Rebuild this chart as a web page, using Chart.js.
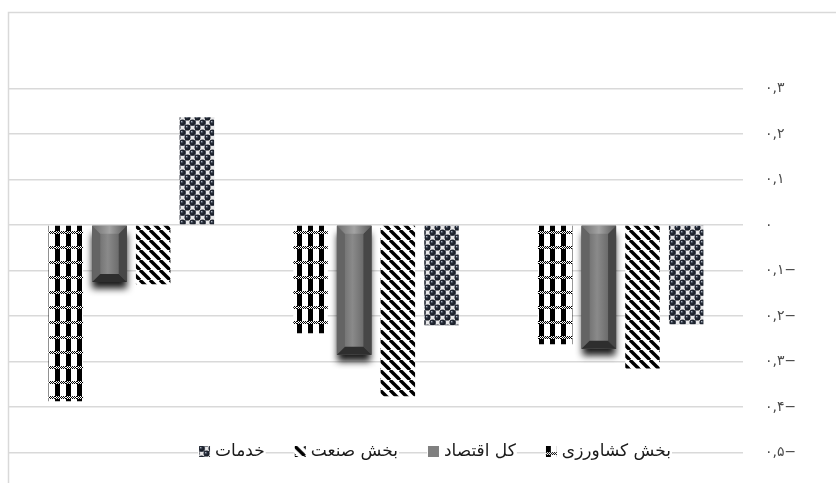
<!DOCTYPE html>
<html><head><meta charset="utf-8">
<script src="https://cdn.jsdelivr.net/npm/chart.js@4/dist/chart.umd.min.js"></script>
<style>html,body{margin:0;padding:0;background:#fff;}#wrap{width:836px;height:483px;position:relative;}</style>
</head><body><div id="wrap"><canvas id="c" width="836" height="483"></canvas></div>
<script>
// ---- data ----
const categories = ['1', '2', '3'];
const seriesNames = ['بخش کشاورزی', 'کل اقتصاد', 'بخش صنعت', 'خدمات'];
const agriculture = [-0.387, -0.238, -0.262];
const economy = [-0.125, -0.285, -0.272];
const industry = [-0.13, -0.376, -0.315];
const services = [0.237, -0.22, -0.218];
const tickValues = [0.3, 0.2, 0.1, 0, -0.1, -0.2, -0.3, -0.4, -0.5];
const tickLabels = ['۰,۳', '۰,۲', '۰,۱', '۰', '۰,۱−', '۰,۲−', '۰,۳−', '۰,۴−', '۰,۵−'];

// ---- patterns ----
function tile(w, h, draw) {
  const c = document.createElement('canvas'); c.width = w; c.height = h;
  const x = c.getContext('2d'); draw(x, w, h); return c;
}
const ctx0 = document.getElementById('c').getContext('2d');
const checkTile = tile(11, 15, (x, w, h) => {
  x.fillStyle = '#fff'; x.fillRect(0, 0, w, h);
  x.fillStyle = '#000'; x.fillRect(0, 0, 5, h);
  for (let yy = 0; yy < 3; yy++) for (let xx = 0; xx < w; xx++) {
    x.fillStyle = ((xx + yy) % 2 === 0) ? '#000' : '#fff';
    x.fillRect(xx, 6 + yy, 1, 1);
  }
});
const stripeTile = tile(10, 10, (x, w, h) => {
  x.fillStyle = '#fff'; x.fillRect(0, 0, w, h);
  x.strokeStyle = '#000'; x.lineWidth = 3.4;
  for (const o of [-10, 0, 10]) { x.beginPath(); x.moveTo(o, 0); x.lineTo(o + 10, 10); x.stroke(); }
});
const sphereTile = tile(10, 10, (x, w, h) => {
  x.fillStyle = '#e8e8ea'; x.fillRect(0, 0, w, h);
  x.fillStyle = '#6e7480'; x.fillRect(0, 5, 10, 1); x.fillRect(5, 0, 1, 10);
  for (const [cx, cy] of [[2.5, 2.5], [7.5, 7.5], [12.5, 2.5], [-2.5, 7.5], [2.5, 12.5], [7.5, -2.5]]) {
    const g = x.createRadialGradient(cx - 0.9, cy - 0.9, 0.2, cx, cy, 3.2);
    g.addColorStop(0, '#aab0bc'); g.addColorStop(0.3, '#272e3c'); g.addColorStop(1, '#10141c');
    x.fillStyle = g; x.beginPath(); x.arc(cx, cy, 3.0, 0, Math.PI * 2); x.fill();
  }
});
const checkPat = ctx0.createPattern(checkTile, 'repeat');
const stripePat = ctx0.createPattern(stripeTile, 'repeat');
const spherePat = ctx0.createPattern(sphereTile, 'repeat');

// ---- plugins ----
const framePlugin = {
  id: 'frame',
  beforeDraw(chart) {
    const c = chart.ctx; c.save();
    c.strokeStyle = '#d9d9d9'; c.lineWidth = 1.5;
    c.beginPath(); c.moveTo(8.5, 483); c.lineTo(8.5, 12.5); c.lineTo(836, 12.5); c.stroke();
    c.restore();
  }
};
function bevelBar(c, L, T, R, B) {
  const b = Math.min(8, (B - T) / 3);
  c.save();
  c.shadowColor = 'rgba(0,0,0,0.9)'; c.shadowBlur = 7; c.shadowOffsetY = 7;
  c.fillStyle = '#444'; c.fillRect(L, T, R - L, B - T);
  c.restore();
  const g = c.createLinearGradient(L, 0, R, 0);
  g.addColorStop(0, '#5f5f5f'); g.addColorStop(0.45, '#8a8a8a'); g.addColorStop(0.6, '#7c7c7c'); g.addColorStop(1, '#555');
  c.fillStyle = g; c.fillRect(L, T, R - L, B - T);
  const poly = (pts, col) => { c.beginPath(); c.moveTo(pts[0][0], pts[0][1]); for (const p of pts.slice(1)) c.lineTo(p[0], p[1]); c.closePath(); c.fillStyle = col; c.fill(); };
  poly([[L, T], [L + b, T + b], [L + b, B - b], [L, B]], '#646464');
  poly([[R, T], [R, B], [R - b, B - b], [R - b, T + b]], '#474747');
  const tg = c.createLinearGradient(L, 0, R, 0);
  tg.addColorStop(0, '#6f6f6f'); tg.addColorStop(0.5, '#a3a3a3'); tg.addColorStop(1, '#5a5a5a');
  poly([[L, T], [R, T], [R - b, T + b], [L + b, T + b]], tg);
  poly([[L, B], [R, B], [R - b, B - b], [L + b, B - b]], '#2e2e2e');
}
const bevelPlugin = {
  id: 'bevel',
  afterDatasetDraw(chart, args) {
    if (args.index !== 1) return;
    const c = chart.ctx; c.save();
    for (const el of args.meta.data) {
      const p = el.getProps(['x', 'y', 'base', 'width'], true);
      const L = p.x - p.width / 2, R = p.x + p.width / 2;
      const T = Math.min(p.y, p.base), B = Math.max(p.y, p.base);
      bevelBar(c, L, T, R, B);
    }
    c.restore();
  }
};
const legendPlugin = {
  id: 'customLegend',
  afterDraw(chart) {
    const c = chart.ctx; c.save();
    c.font = '17px "DejaVu Sans"'; c.textBaseline = 'middle';
    const sw = 11, gapSwText = 5, itemGap = 30, y = 452;
    const widths = seriesNames.map(n => c.measureText(n).width);
    const itemW = widths.map(w => sw + gapSwText + w);
    const total = itemW.reduce((a, b) => a + b, 0) + itemGap * (seriesNames.length - 1);
    let right = 435 + total / 2;
    for (let i = 0; i < seriesNames.length; i++) {
      const left = right - itemW[i];
      c.fillStyle = '#fff'; c.fillRect(left - 1, y - 11, itemW[i] + 2, 22);
      const sy = y - 6;
      if (i === 1) { c.fillStyle = '#808080'; c.fillRect(left, sy, sw, sw); }
      else {
        c.save(); c.translate(left, sy);
        c.fillStyle = [checkPat, null, stripePat, spherePat][i];
        c.fillRect(0, 0, sw, sw); c.restore();
      }
      c.fillStyle = '#1a1a1a'; c.textAlign = 'right'; c.direction = 'rtl';
      c.fillText(seriesNames[i], right, y);
      right = left - itemGap;
    }
    c.restore();
  }
};

new Chart(document.getElementById('c'), {
  type: 'bar',
  data: {
    labels: categories,
    datasets: [
      { label: seriesNames[0], data: agriculture, backgroundColor: checkPat, borderWidth: 0 },
      { label: seriesNames[1], data: economy, backgroundColor: 'rgba(0,0,0,0)', borderWidth: 0 },
      { label: seriesNames[2], data: industry, backgroundColor: stripePat, borderWidth: 0 },
      { label: seriesNames[3], data: services, backgroundColor: spherePat, borderWidth: 0 }
    ]
  },
  options: {
    responsive: false, animation: false,
    layout: { padding: { left: 9, top: 43, bottom: 30, right: 0 } },
    datasets: { bar: { categoryPercentage: 0.714, barPercentage: 0.79 } },
    plugins: { legend: { display: false }, tooltip: { enabled: false } },
    scales: {
      x: { display: false },
      y: {
        position: 'right', min: -0.5, max: 0.4,
        afterFit(s) { s.width = 93; },
        border: { display: false },
        grid: { drawTicks: false, color: (ctx) => (ctx.tick && ctx.tick.value > 0.35) ? 'rgba(0,0,0,0)' : '#d9d9d9', lineWidth: 1.5 },
        ticks: {
          stepSize: 0.1, padding: 22, color: '#4a4a4a', font: { family: 'DejaVu Sans', size: 14 },
          callback(v) {
            const r = Math.round(v * 10) / 10;
            const i = tickValues.findIndex(t => Math.abs(t - r) < 1e-6);
            return i >= 0 ? tickLabels[i] : '';
          }
        }
      }
    }
  },
  plugins: [framePlugin, bevelPlugin, legendPlugin]
});
</script></body></html>
